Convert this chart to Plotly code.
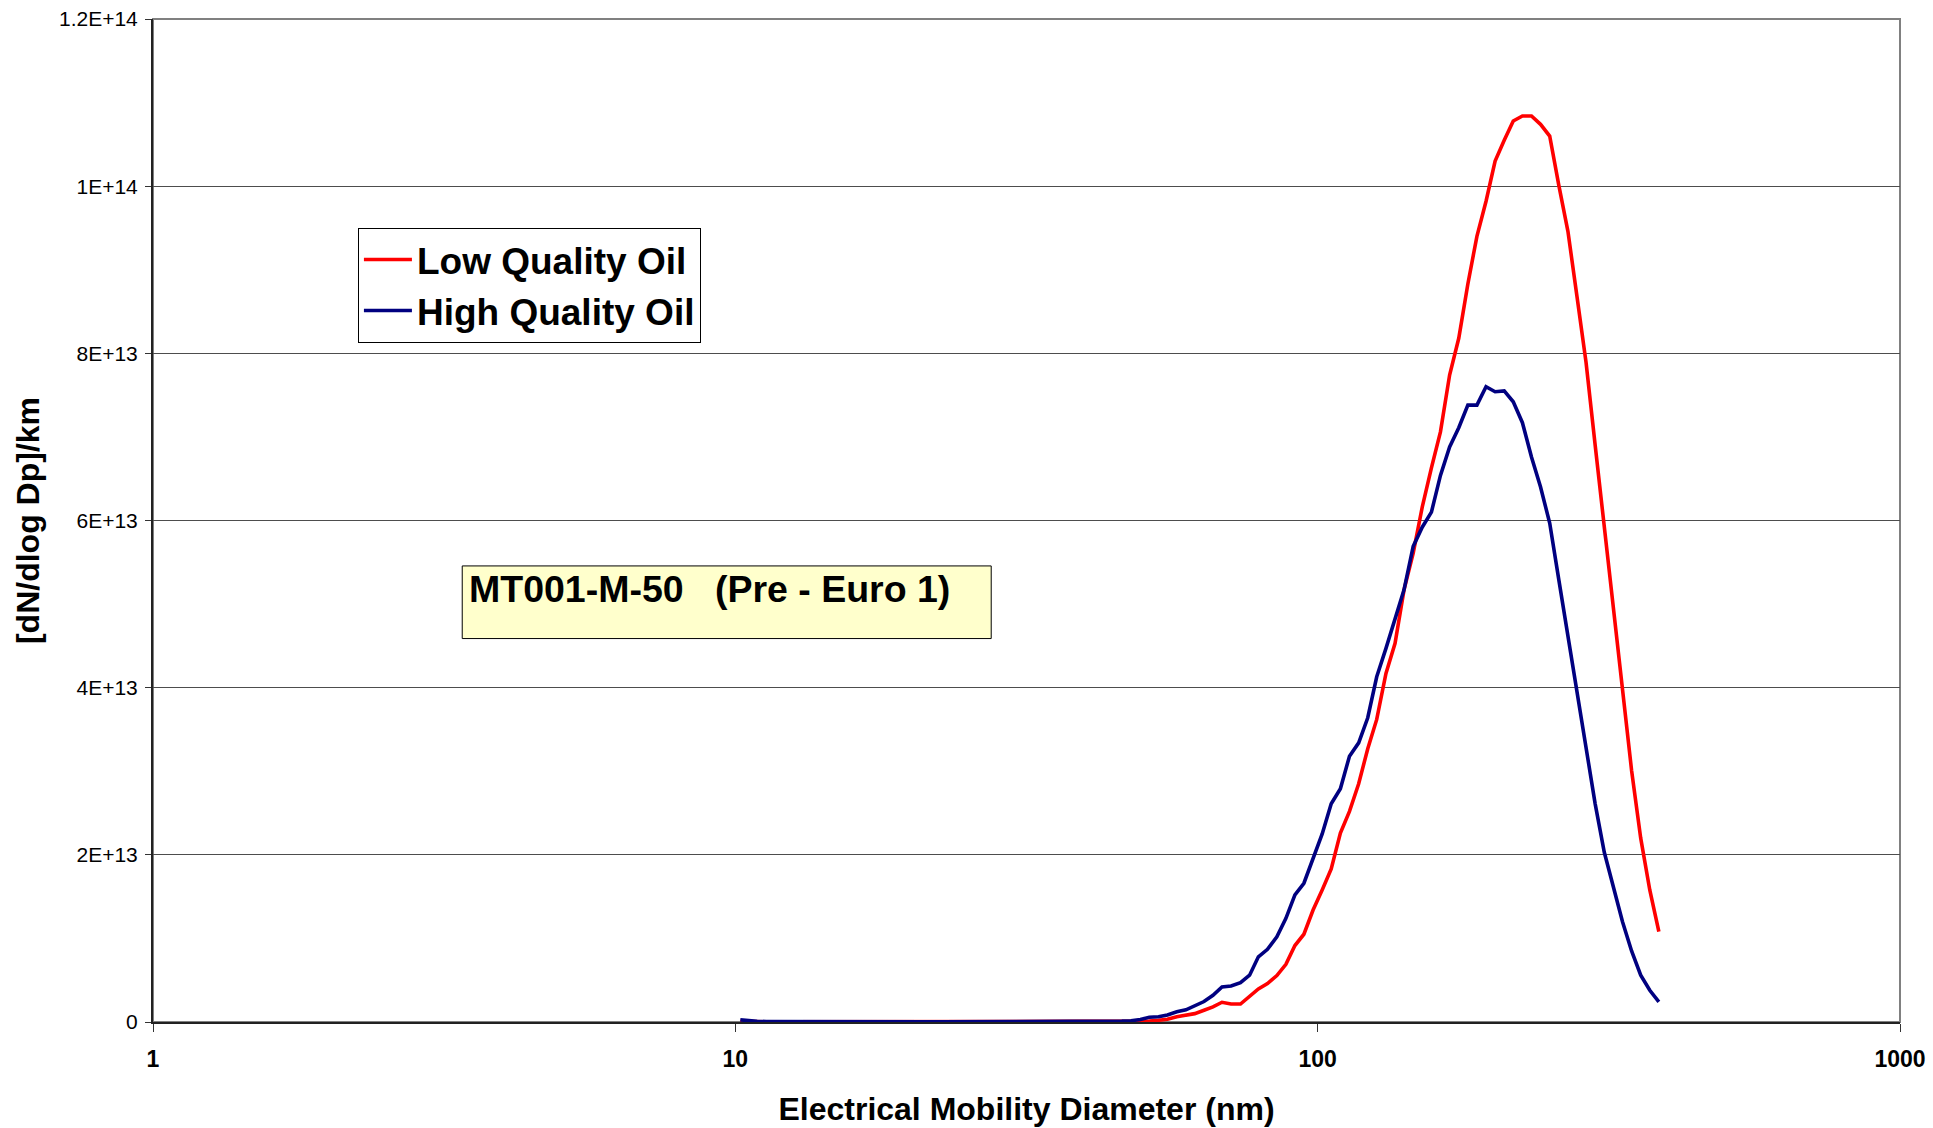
import plotly.graph_objects as go

# Electrical mobility diameter (nm), SMPS channel midpoints
diameter_nm = [
    10.2, 10.6, 10.9, 11.3, 11.8, 12.2, 12.6, 13.1, 13.6, 14.1, 14.6, 15.1, 15.7, 16.3, 16.8,
    17.5, 18.1, 18.8, 19.5, 20.2, 20.9, 21.7, 22.5, 23.3, 24.1, 25.0, 25.9, 26.9, 27.9, 28.9,
    30.0, 31.1, 32.2, 33.4, 34.6, 35.9, 37.2, 38.5, 40.0, 41.4, 42.9, 44.5, 46.1, 47.8, 49.6,
    51.4, 53.3, 55.2, 57.3, 59.4, 61.5, 63.8, 66.1, 68.5, 71.0, 73.7, 76.4, 79.1, 82.0, 85.1,
    88.2, 91.4, 94.7, 98.2, 101.8, 105.5, 109.4, 113.4, 117.6, 121.9, 126.3, 131.0, 135.8,
    140.7, 145.9, 151.2, 156.8, 162.5, 168.5, 174.7, 181.1, 187.7, 194.6, 201.7, 209.1, 216.7,
    224.7, 232.9, 241.4, 250.3, 259.5, 269.0, 278.8, 289.0, 299.6, 310.6, 322.0, 333.8, 346.0,
    358.7, 371.8, 385.4,
]

# [dN/dlog Dp]/km in units of 1E+13
low_quality_oil_e13 = [
    0.008, 0.003, 0.002, 0.001, 0.001, 0.001, 0.001, 0.001, 0.001, 0.001, 0.001, 0.001, 0.001, 0.001,
    0.001, 0.001, 0.001, 0.001, 0.001, 0.001, 0.001, 0.001, 0.001, 0.001, 0.001, 0.001, 0.001, 0.001,
    0.001, 0.001, 0.001, 0.001, 0.001, 0.001, 0.001, 0.001, 0.001, 0.001, 0.001, 0.001, 0.001, 0.001,
    0.001, 0.002, 0.004, 0.01, 0.02, 0.034, 0.063, 0.084, 0.10, 0.14,
    0.18, 0.236, 0.215, 0.215, 0.305, 0.395, 0.46, 0.556, 0.69, 0.915,
    1.05, 1.34,
    1.58, 1.83, 2.26, 2.52, 2.85, 3.27, 3.62, 4.17, 4.53, 5.17,
    5.61, 6.16, 6.63, 7.06, 7.74, 8.18, 8.83, 9.40, 9.82, 10.30,
    10.55, 10.78, 10.84, 10.84, 10.74, 10.60, 10.01, 9.46, 8.68, 7.89,
    6.90, 5.92, 4.96, 4.00, 3.01, 2.20, 1.58, 1.08,
]

high_quality_oil_e13 = [
    0.025, 0.012, 0.008, 0.006, 0.005, 0.005, 0.004, 0.004, 0.004, 0.003, 0.003, 0.003, 0.003, 0.003,
    0.002, 0.002, 0.002, 0.002, 0.002, 0.002, 0.002, 0.002, 0.002, 0.002, 0.002, 0.002, 0.002, 0.002,
    0.002, 0.002, 0.002, 0.002, 0.002, 0.002, 0.002, 0.003, 0.003, 0.003, 0.004, 0.005, 0.007, 0.010,
    0.012, 0.015, 0.03, 0.056, 0.062, 0.084, 0.123, 0.146, 0.197, 0.245,
    0.32, 0.42, 0.43, 0.47, 0.56, 0.78, 0.87, 1.02, 1.24, 1.52,
    1.66, 1.97,
    2.25, 2.61, 2.79, 3.18, 3.34, 3.64, 4.13, 4.47, 4.81, 5.17,
    5.69, 5.92, 6.10, 6.54, 6.88, 7.11, 7.38, 7.38, 7.60, 7.54,
    7.55, 7.42, 7.17, 6.76, 6.40, 5.97, 5.29, 4.62, 4.00, 3.28,
    2.61, 2.03, 1.61, 1.20, 0.85, 0.56, 0.38, 0.24,
]

UNIT = 1e13
low_quality_oil = [v * UNIT for v in low_quality_oil_e13]
high_quality_oil = [v * UNIT for v in high_quality_oil_e13]

x_tick_vals = [1, 10, 100, 1000]
x_tick_text = ["1", "10", "100", "1000"]
y_tick_vals = [0, 2e13, 4e13, 6e13, 8e13, 1e14, 1.2e14]
y_tick_text = ["0", "2E+13", "4E+13", "6E+13", "8E+13", "1E+14", "1.2E+14"]

FONT = "Liberation Sans, Arial, sans-serif"

fig = go.Figure()
fig.add_trace(go.Scatter(
    x=diameter_nm, y=low_quality_oil, mode="lines", name="Low Quality Oil",
    line=dict(color="#FF0000", width=3.6),
))
fig.add_trace(go.Scatter(
    x=diameter_nm, y=high_quality_oil, mode="lines", name="High Quality Oil",
    line=dict(color="#000080", width=3.6),
))

# plot-area frame (grey top/right)
fig.add_shape(type="rect", xref="paper", yref="paper", x0=0, x1=1, y0=0, y1=1,
              line=dict(color="#808080", width=2), layer="below")

# label box
fig.add_shape(type="rect", xref="paper", yref="paper",
              x0=0.1770, x1=0.4798, y0=0.3823, y1=0.4547,
              line=dict(color="#000000", width=1), fillcolor="#FFFFCC", layer="above")
fig.add_annotation(xref="paper", yref="paper", x=0.1799, y=0.4315,
                   xanchor="left", yanchor="middle", showarrow=False,
                   text="MT001-M-50\u00a0\u00a0\u00a0(Pre - Euro 1)",
                   font=dict(family=FONT, size=37.5, color="#000000", weight="bold"))

fig.update_layout(
    width=1933, height=1128,
    margin=dict(l=153, r=33, t=19, b=106),
    paper_bgcolor="#FFFFFF", plot_bgcolor="#FFFFFF",
    font=dict(family=FONT, color="#000000"),
    showlegend=True,
    legend=dict(
        x=0.1173, y=0.7917, xanchor="left", yanchor="top",
        bgcolor="#FFFFFF", bordercolor="#000000", borderwidth=1,
        font=dict(family=FONT, size=37, color="#000000", weight="bold"),
        itemwidth=48,
    ),
    xaxis=dict(
        type="log", range=[0, 3],
        tickvals=x_tick_vals, ticktext=x_tick_text,
        ticks="outside", ticklen=8, tickcolor="#333333", tickwidth=1,
        ticklabelstandoff=7,
        tickfont=dict(family=FONT, size=23, color="#000000", weight="bold"),
        showgrid=False, zeroline=False,
        showline=True, linecolor="#222222", linewidth=2,
        title=dict(text="Electrical Mobility Diameter (nm)", standoff=27,
                   font=dict(family=FONT, size=32, color="#000000", weight="bold")),
        automargin=False,
    ),
    yaxis=dict(
        range=[0, 1.2e14],
        tickvals=y_tick_vals, ticktext=y_tick_text,
        ticks="outside", ticklen=6, tickcolor="#333333", tickwidth=1,
        ticklabelstandoff=3,
        tickfont=dict(family=FONT, size=21, color="#000000"),
        showgrid=True, gridcolor="#4d4d4d", gridwidth=1,
        zeroline=False,
        showline=True, linecolor="#222222", linewidth=2,
        title=dict(text="[dN/dlog Dp]/km", standoff=10,
                   font=dict(family=FONT, size=32, color="#000000", weight="bold")),
        automargin=False,
    ),
)

fig.write_html("out.html")
